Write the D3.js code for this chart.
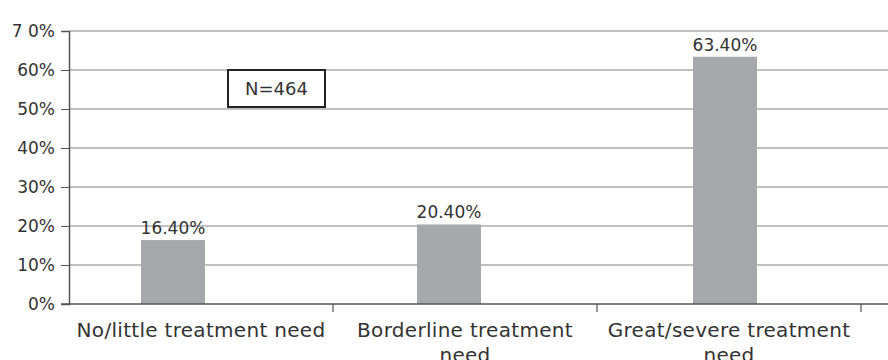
<!DOCTYPE html>
<html>
<head>
<meta charset="utf-8">
<script src="https://cdn.jsdelivr.net/npm/d3@7"></script>
<style>
  html, body { margin: 0; padding: 0; background: #fff; }
  svg { display: block; }
  text { font-family: "DejaVu Sans", sans-serif; fill: #333; }
</style>
</head>
<body>
<svg id="chart" width="888" height="360"></svg>
<script>
// Treatment need distribution
const categories = ["No/little treatment need", "Borderline treatment\nneed", "Great/severe treatment\nneed"];
const shares = [16.4, 20.4, 63.4];
const valueLabels = ["16.40%", "20.40%", "63.40%"];
const yTicks = [0, 10, 20, 30, 40, 50, 60, 70];
const yTickLabels = ["0%", "10%", "20%", "30%", "40%", "50%", "60%", "7 0%"];
const sampleNote = "N=464";

const svg = d3.select("#chart");
const plotLeft = 69, plotRight = 861, plotTop = 31, plotBottom = 304;

const y = d3.scaleLinear().domain([0, 70]).range([plotBottom, plotTop]);
const x = d3.scaleBand().domain(categories).range([plotLeft, plotRight]);
// bars sit slightly left of their category centres
const xBar = d3.scaleBand().domain(categories).range([35, 863]).paddingInner(0.768).paddingOuter(0.384);

// gridlines
svg.append("g").selectAll("line").data(yTicks.filter(d => d > 0)).join("line")
  .attr("x1", plotLeft).attr("x2", 888)
  .attr("y1", d => y(d)).attr("y2", d => y(d))
  .attr("stroke", "#adadad").attr("stroke-width", 1.5);

// bars
svg.append("g").selectAll("rect").data(shares).join("rect")
  .attr("x", (d, i) => xBar(categories[i]))
  .attr("width", xBar.bandwidth())
  .attr("y", d => y(d))
  .attr("height", d => y(0) - y(d))
  .attr("fill", "#a7a8ab");

// value labels
svg.append("g").selectAll("text").data(shares).join("text")
  .attr("x", (d, i) => xBar(categories[i]) + xBar.bandwidth() / 2)
  .attr("y", d => y(d) - 6)
  .attr("text-anchor", "middle")
  .attr("font-size", 17)
  .text((d, i) => valueLabels[i]);

// y axis
const yAxis = d3.axisLeft(y).tickValues(yTicks)
  .tickFormat((d, i) => yTickLabels[i]).tickSize(8).tickPadding(6);
const gy = svg.append("g").attr("transform", `translate(${plotLeft},0)`).call(yAxis);
gy.select(".domain").attr("stroke", "#555").attr("stroke-width", 1.5);
gy.selectAll(".tick line").attr("stroke", "#555");
gy.selectAll(".tick text").attr("font-size", 17).attr("fill", "#333")
  .style("font-family", "DejaVu Sans, sans-serif");

// x axis
const xAxis = d3.axisBottom(x).tickSize(0).tickFormat("");
const gx = svg.append("g").attr("transform", `translate(0,${plotBottom})`).call(xAxis);
gx.select(".domain").remove();
svg.append("line").attr("x1", plotLeft - 8).attr("x2", 888)
  .attr("y1", plotBottom).attr("y2", plotBottom).attr("stroke", "#555").attr("stroke-width", 1.5);
// category separators
const bounds = categories.map(c => x(c) + x.bandwidth());
svg.append("g").selectAll("line").data(bounds).join("line")
  .attr("x1", d => d).attr("x2", d => d)
  .attr("y1", plotBottom).attr("y2", plotBottom + 8)
  .attr("stroke", "#555").attr("stroke-width", 1.2);

// category labels
const catG = svg.append("g");
categories.forEach(c => {
  const cx = x(c) + x.bandwidth() / 2;
  const t = catG.append("text")
    .attr("x", cx).attr("y", plotBottom + 33)
    .attr("text-anchor", "middle").attr("font-size", 20)
    .attr("letter-spacing", 0.3);
  c.split("\n").forEach((ln, k) => {
    t.append("tspan").attr("x", cx).attr("dy", k === 0 ? 0 : 25).text(ln);
  });
});

// sample-size note
const note = svg.append("g");
note.append("rect").attr("x", 228).attr("y", 70).attr("width", 97).attr("height", 37)
  .attr("fill", "#fff").attr("stroke", "#222").attr("stroke-width", 2);
note.append("text").attr("x", 276.5).attr("y", 95).attr("text-anchor", "middle")
  .attr("font-size", 18).text(sampleNote);
</script>
</body>
</html>
